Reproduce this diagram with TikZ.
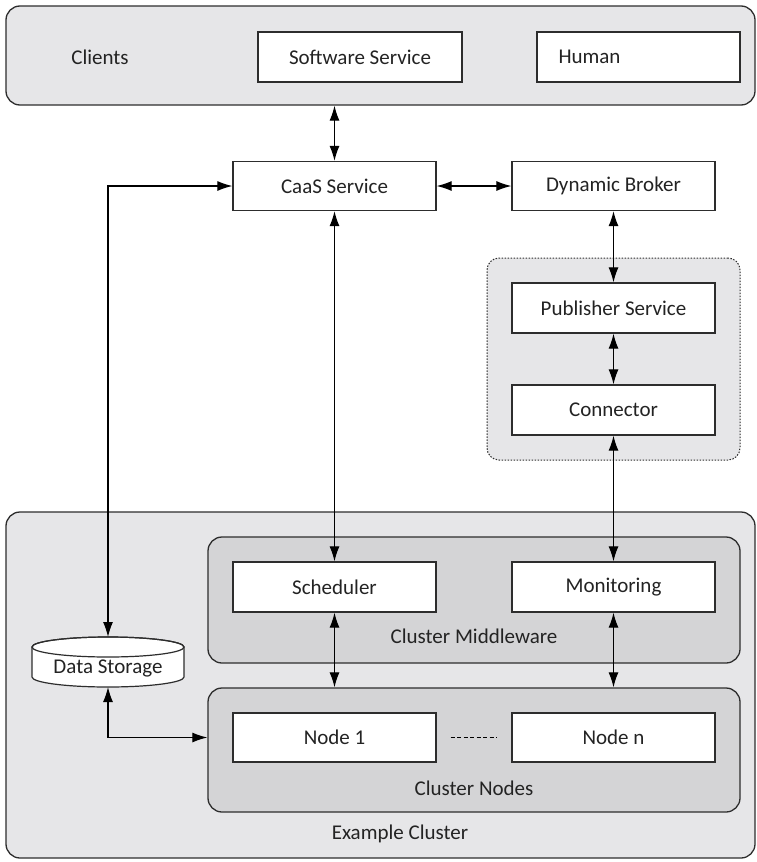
\documentclass[tikz,border=0pt]{standalone}
\usepackage{fontspec}
\setmainfont{Carlito}
\usetikzlibrary{arrows.meta,calc}
\definecolor{outerfill}{RGB}{230,230,232}
\definecolor{innerfill}{RGB}{212,212,214}
\definecolor{edge}{RGB}{45,45,45}
\definecolor{txt}{RGB}{35,35,35}
\tikzset{
  every node/.style={font=\fontsize{21}{25}\selectfont, text=txt},
  box/.style={draw=edge, line width=1.3pt, fill=white, minimum width=203pt, minimum height=49pt, inner sep=0pt},
  container/.style={draw=edge, line width=1.3pt, rounded corners=14pt, inner sep=0pt},
  lbl/.style={inner sep=0pt},
  conn/.style={draw=black, line width=1.2pt, {Latex[length=15pt,width=10pt]}-{Latex[length=15pt,width=10pt]}},
}
\begin{document}
\begin{tikzpicture}[x=1pt,y=-1pt]
\useasboundingbox (0,0) rectangle (757,862);
% containers
\node[container, fill=outerfill, minimum width=749pt, minimum height=99pt] (clients) at (380.5,55.5) {};
\node[container, fill=outerfill, minimum width=749pt, minimum height=346pt] (cluster) at (380.5,685) {};
\node[container, fill=outerfill, dash pattern=on 1.5pt off 1.5pt, line width=1pt, rounded corners=12pt, minimum width=253pt, minimum height=202pt] (pubgrp) at (613.5,359) {};
\node[container, fill=innerfill, minimum width=532pt, minimum height=126pt] (mw) at (474,600) {};
\node[container, fill=innerfill, minimum width=532pt, minimum height=124pt] (cn) at (474,750) {};
% labels
\node[lbl] (clientslbl) at (100,57) {Clients};
\node[lbl] (mwlbl) at (474,636) {Cluster Middleware};
\node[lbl] (cnlbl) at (474,788) {Cluster Nodes};
\node[lbl] (cllbl) at (400,834) {Example Cluster};
% boxes
\node[box, minimum width=204pt, minimum height=50pt] (ss) at (360,57) {Software Service};
\node[box, minimum width=203pt, minimum height=50pt, text width=160pt, align=left] (human) at (638.5,57) {Human};
\node[box] (caas) at (334.5,186) {CaaS Service};
\node[box] (broker) at (613.5,186) {Dynamic Broker};
\node[box, minimum height=50pt] (pub) at (613.5,308) {Publisher Service};
\node[box, minimum height=50pt] (connector) at (613.5,410) {Connector};
\node[box, minimum height=50pt] (sched) at (334.5,587) {Scheduler};
\node[box, minimum height=50pt] (mon) at (613.5,587) {Monitoring};
\node[box] (n1) at (334.5,737.5) {Node 1};
\node[box] (nn) at (613.5,737.5) {Node n};
% data storage cylinder
\path[draw=edge, line width=1.2pt, fill=white] (32,647) -- (32,677) arc[start angle=180, end angle=360, x radius=76pt, y radius=10pt] -- (184,647) arc[start angle=0, end angle=180, x radius=76pt, y radius=10pt] -- cycle;
\draw[edge, line width=1.2pt] (108,647) ellipse [x radius=76pt, y radius=10pt];
\node[lbl] (ds) at (108,668) {Data Storage};
\coordinate (dstop) at (108,637);
\coordinate (dsbot) at (108,687);
% connectors
\draw[conn] (caas.north) -- (caas.north |- clients.south);
\draw[conn] (caas.east) -- (broker.west);
\draw[conn] (dstop) |- (caas.west);
\draw[conn] (broker.south) -- (pub.north);
\draw[conn] (pub.south) -- (connector.north);
\draw[conn] (connector.south) -- (mon.north);
\draw[conn] (caas.south) -- (sched.north);
\draw[conn] (sched.south) -- (sched.south |- cn.north);
\draw[conn] (mon.south) -- (mon.south |- cn.north);
\draw[conn] (dsbot) |- (cn.west |- n1.west);
\draw[black, line width=1.6pt, dash pattern=on 4pt off 2.5pt] ($(n1.east)+(14,0)$) -- ($(nn.west)+(-14,0)$);
\end{tikzpicture}
\end{document}
